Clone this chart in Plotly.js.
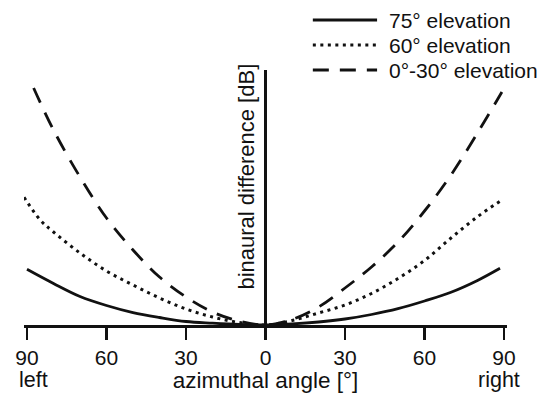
<!DOCTYPE html>
<html>
<head>
<meta charset="utf-8">
<script src="https://cdn.plot.ly/plotly-3.0.1.min.js"></script>
<style>html,body{margin:0;padding:0;background:#fff;}#chart{width:555px;height:393px;}</style>
</head>
<body>
<div id="chart"></div>
<script>
// Azimuth angles (deg, negative = left) and binaural difference (arbitrary dB units)
const x75 = [-90,-80,-70,-60,-50,-40,-30,-20,-10,0,10,20,30,40,50,60,70,80,88.5];
const y75 = [5.57,4.15,2.85,1.95,1.24,0.75,0.35,0.18,0.05,0,0.11,0.3,0.6,1.05,1.63,2.4,3.27,4.45,5.67];

const x60 = [-91.1,-85,-80,-70,-60,-50,-40,-30,-20,-10,0,10,20,30,40,50,60,70,80,89.2];
const y60 = [12.77,10.5,9.3,7.2,5.4,4.0,2.7,1.6,0.8,0.25,0,0.45,1.2,2.0,3.15,4.65,6.45,8.7,10.83,12.5];

const x030 = [-87.5,-80,-70,-60,-50,-40,-30,-20,-10,0,10,20,30,40,50,60,70,80,89.2];
const y030 = [23.7,19.5,14.8,10.7,7.5,4.8,2.8,1.3,0.4,0,0.55,1.8,3.7,5.8,8.3,11.4,15.0,19.2,23.3];

const seriesNames = ["75° elevation", "60° elevation", "0°-30° elevation"];
const tickVals = [-90,-60,-30,0,30,60,90];
const tickText = ["90","60","30","0","30","60","90"];
const sideLabels = ["left","right"];
const xTitle = "azimuthal angle [°]";
const yTitle = "binaural difference [dB]";

const FONT = "Liberation Sans, Arial, Helvetica, sans-serif";
const INK = "#111";
const FS = 21;
const styles = [
  {color: INK, width: 2.8, dash: "solid"},
  {color: INK, width: 3, dash: "3px,4.5px"},
  {color: INK, width: 2.8, dash: "16px,11px"}
];
const xs = [x75, x60, x030];
const ys = [y75, y60, y030];

const traces = seriesNames.map((n, i) => ({
  x: xs[i], y: ys[i], name: n, mode: "lines", showlegend: false,
  line: Object.assign({shape: "spline"}, styles[i])
}));

// hand-drawn legend (longer line samples than Plotly's native legend)
const legRowY = [1.196, 1.098, 1.0];
const legShapes = legRowY.map((yy, i) => ({
  type: "line", xref: "paper", yref: "paper",
  x0: 0.598, x1: 0.731, y0: yy, y1: yy, line: styles[i]
}));
const legTexts = legRowY.map((yy, i) => ({
  text: seriesNames[i], xref: "paper", yref: "paper", x: 0.751, y: yy,
  xanchor: "left", yanchor: "middle", showarrow: false, font: {size: FS}
}));

const layout = {
  width: 555, height: 393,
  margin: {l: 24, r: 48, t: 70, b: 68, autoexpand: false},
  paper_bgcolor: "#fff", plot_bgcolor: "#fff",
  font: {family: FONT, size: FS, color: INK},
  showlegend: false,
  xaxis: {
    range: [-91.13, 91.13], showgrid: false,
    showline: true, linecolor: INK, linewidth: 2.8,
    zeroline: true, zerolinecolor: INK, zerolinewidth: 2.8,
    ticks: "outside", ticklen: 12, tickwidth: 2.8, tickcolor: INK,
    tickvals: tickVals, ticktext: tickText,
    tickfont: {size: FS},
    title: {text: xTitle, font: {size: 22.5}, standoff: 0}
  },
  yaxis: {
    range: [0, 25.5], showgrid: false, zeroline: false, showline: false,
    showticklabels: false, ticks: ""
  },
  shapes: legShapes,
  annotations: [
    {text: yTitle, textangle: -90, xref: "x", x: 0, xshift: -19,
     yref: "paper", y: 0.58, xanchor: "center", yanchor: "middle",
     showarrow: false, font: {size: 22}},
    {text: sideLabels[0], xref: "x", x: -87.7, yref: "paper", y: -0.214,
     xanchor: "center", yanchor: "middle", showarrow: false, font: {size: 21.5}},
    {text: sideLabels[1], xref: "x", x: 88.1, yref: "paper", y: -0.214,
     xanchor: "center", yanchor: "middle", showarrow: false, font: {size: 21.5}}
  ].concat(legTexts)
};

Plotly.newPlot("chart", traces, layout, {displayModeBar: false, staticPlot: true});
</script>
</body>
</html>
